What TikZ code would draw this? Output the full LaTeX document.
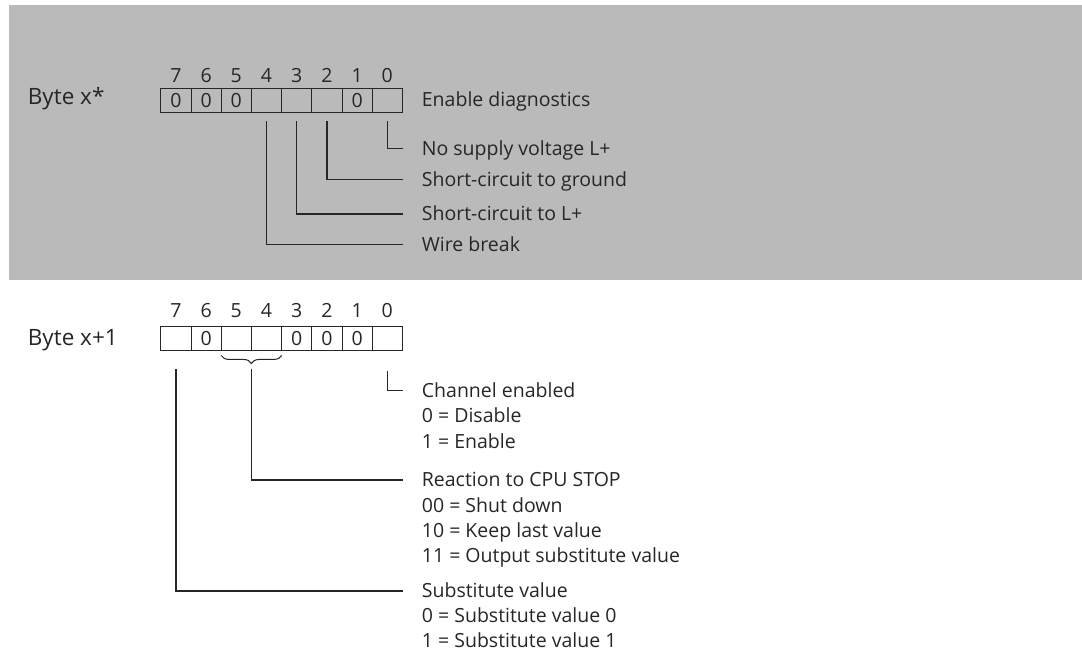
\documentclass[tikz,border=0pt]{standalone}
\usepackage{fontspec}
\setmainfont{Open Sans}
\usepackage{xcolor}
\usepackage{tikz}
\usetikzlibrary{positioning,calc,decorations.pathreplacing}
\definecolor{bandgray}{RGB}{186,186,186}
\definecolor{ink}{RGB}{38,38,38}

\begin{document}
\begin{tikzpicture}[x=1pt,y=-1pt,
  cell/.style={draw=ink, line width=0.9pt, minimum width=30.2pt, minimum height=24.4pt,
    inner sep=0pt, text=ink, font=\fontsize{19.5}{22}\selectfont},
  txt/.style={anchor=west, inner sep=0pt, text height=13.9pt, text depth=0pt,
    text=ink, font=\fontsize{19.5}{22}\selectfont},
  bytelbl/.style={txt, text height=16pt, font=\fontsize{22.5}{26}\selectfont},
  bitno/.style={txt, anchor=center},
  lead/.style={draw=ink, line width=1.2pt}]
\useasboundingbox (0,0) rectangle (1082,652);

% Grey band behind byte x
\fill[bandgray] (9,5) rectangle (1082,280);

% Byte x: cells and bit numbers
\node[bytelbl] (bytea) at (27.7,97) {Byte x*};
\foreach \b/\v in {7/0,6/0,5/0,4/,3/,2/,1/0,0/} {
    \node[cell] (a\b) at ({160.8+(7.5-\b)*30.2},100.5) {\v};
    \node[bitno] (na\b) at ({160.8+(7.5-\b)*30.2},75.5) {\b};
}

% Byte x: meaning of the bits
\node[txt] (diag)   at (421.7,100)   {Enable diagnostics};
\node[txt] (supply) at (421.7,148.3) {No supply voltage L+};
\node[txt] (ground) at (421.7,179.3) {Short-circuit to ground};
\node[txt] (lplus)  at (421.7,214)   {Short-circuit to L+};
\node[txt] (wire)   at (421.7,244.7) {Wire break};

\draw[lead] ([yshift=-8.3pt]a0.south) |- ([xshift=-19pt]supply.west);
\draw[lead] ([yshift=-8.3pt]a2.south) |- ([xshift=-19pt]ground.west);
\draw[lead] ([yshift=-8.3pt]a3.south) |- ([xshift=-19pt]lplus.west);
\draw[lead] ([yshift=-8.3pt]a4.south) |- ([xshift=-19pt]wire.west);

% Byte x+1: cells and bit numbers
\node[bytelbl] (byteb) at (27.7,337) {Byte x+1};
\foreach \b/\v in {7/,6/0,5/,4/,3/0,2/0,1/0,0/} {
    \node[cell] (b\b) at ({160.8+(7.5-\b)*30.2},338.3) {\v};
    \node[bitno] (nb\b) at ({160.8+(7.5-\b)*30.2},311) {\b};
}

% Brace over bits 5 and 4
\draw[ink, line width=1pt, decorate, decoration={brace, mirror, amplitude=8pt}]
    ([xshift=0.4pt,yshift=-4.5pt]b5.south west) -- ([xshift=-0.4pt,yshift=-4.5pt]b4.south east);
\coordinate (brtip) at ([yshift=-18.5pt]$(b5.south)!.5!(b4.south)$);

% Byte x+1: meaning of the bits
\node[txt] (chan)  at (421.7,390.5) {Channel enabled};
\node[txt] (react) at (421.7,480)   {Reaction to CPU STOP};
\node[txt] (subst) at (421.7,591)   {Substitute value};
\foreach \n/\y/\t in {chan1/416/{0 = Disable}, chan2/441.5/{1 = Enable},
    react1/505.5/{00 = Shut down}, react2/531/{10 = Keep last value},
    react3/556/{11 = Output substitute value},
    subst1/616/{0 = Substitute value 0}, subst2/641/{1 = Substitute value 1}} {
    \node[txt] (\n) at (421.7,\y) {\t};
}

\draw[lead] ([yshift=-20.5pt]b0.south) |- ([xshift=-19pt]chan.west);
\draw[lead] (brtip) |- ([xshift=-19pt]react.west);
\draw[lead] ([yshift=-18.5pt]b7.south) |- ([xshift=-19pt]subst.west);

\end{tikzpicture}
\end{document}
